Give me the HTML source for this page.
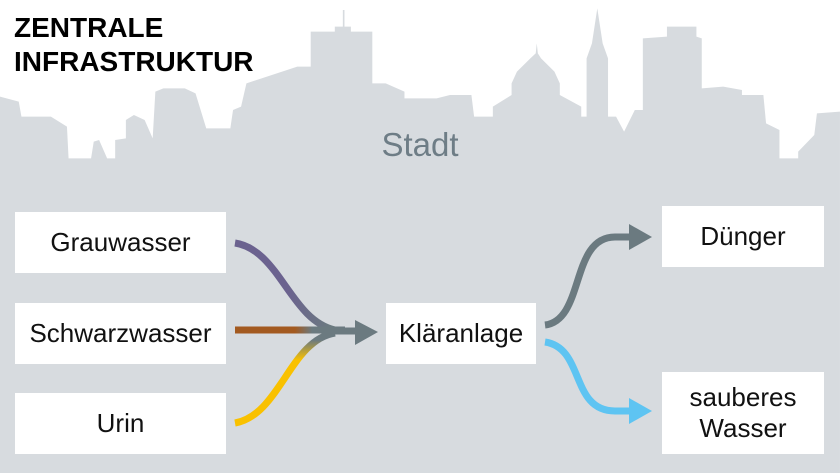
<!DOCTYPE html>
<html><head><meta charset="utf-8"><style>
html,body{margin:0;padding:0;background:#fff}
body{width:840px;height:473px;position:relative;overflow:hidden;font-family:"Liberation Sans",sans-serif}
.box{position:absolute;background:#fff;display:flex;align-items:center;justify-content:center;text-align:center;font-size:26px;color:#111;line-height:31px}
.title{position:absolute;left:14px;top:11px;font-family:"Liberation Sans Narrow","Liberation Sans",sans-serif;font-weight:bold;font-size:28px;line-height:34px;color:#000;white-space:nowrap}
.stadt{position:absolute;left:0;width:840px;top:126px;text-align:center;font-family:"Liberation Sans Narrow","Liberation Sans",sans-serif;font-size:33px;color:#6e7d86}
</style></head><body>
<svg width="840" height="473" style="position:absolute;left:0;top:0">
<defs>
<linearGradient id="gp" x1="235" y1="0" x2="330" y2="0" gradientUnits="userSpaceOnUse"><stop offset="0.55" stop-color="#6b628f"/><stop offset="1" stop-color="#6b7a80"/></linearGradient>
<linearGradient id="gb" x1="295" y1="0" x2="312" y2="0" gradientUnits="userSpaceOnUse"><stop offset="0" stop-color="#a35a20"/><stop offset="1" stop-color="#6b7a80"/></linearGradient>
<linearGradient id="gy" x1="0" y1="360" x2="0" y2="340" gradientUnits="userSpaceOnUse"><stop offset="0" stop-color="#f9c100"/><stop offset="1" stop-color="#6b7a80"/></linearGradient>
</defs>
<g transform="scale(0.5357,0.3333)" fill="#d7dbdf">
<polygon points="0,290 35,305 40,350 95,350 125,380 128,475 170,475 175,425 185,420 200,475 215,475 215,420 235,415 235,360 250,345 270,360 285,415 290,275 305,265 345,265 365,280 385,385 430,385 435,330 450,320 460,250 555,200 580,200 580,95 625,95 625,80 640,80 640,30 643,30 643,80 655,80 655,95 695,95 695,250 720,250 755,275 755,295 815,295 840,285 880,285 885,350 920,350 920,320 955,285 955,250 965,215 990,175 1000,160 1002,130 1004,160 1010,175 1035,215 1045,250 1045,285 1085,320 1085,350 1095,350 1095,175 1105,130 1115,25 1125,130 1135,175 1135,350 1150,350 1165,395 1185,330 1200,330 1200,115 1245,110 1245,80 1300,80 1300,110 1310,115 1310,265 1350,260 1385,270 1385,285 1425,285 1430,370 1455,390 1455,475 1490,475 1490,455 1520,405 1525,340 1568,335 1568,1420 0,1420"/>
</g>
<g fill="none" stroke-width="7">
<path d="M235,243 C280,250 290,320 335,330" stroke="url(#gp)"/>
<path d="M235,330 L345,330" stroke="url(#gb)"/>
<path d="M235,423 C280,415 290,340 335,333" stroke="url(#gy)"/>
<path d="M545,325 C585,320 570,237 615,237 L632,237" stroke="#6b7a80"/>
<path d="M545,342 C585,348 570,411 615,411 L632,411" stroke="#5ec4f2"/>
</g>
<polygon points="355,320 378,332 355,345" fill="#6b7a80"/>
<path d="M330,331 L358,331" stroke="#6b7a80" stroke-width="7"/>
<polygon points="629,224 652,237 629,250" fill="#6b7a80"/>
<polygon points="629,398 652,411 629,424" fill="#5ec4f2"/>
</svg>
<div class="title">ZENTRALE<br>INFRASTRUKTUR</div>
<div class="stadt">Stadt</div>
<div class="box" style="left:15px;top:212px;width:211px;height:61px">Grauwasser</div>
<div class="box" style="left:15px;top:303px;width:211px;height:61px">Schwarzwasser</div>
<div class="box" style="left:15px;top:393px;width:211px;height:61px">Urin</div>
<div class="box" style="left:386px;top:303px;width:150px;height:61px">Kläranlage</div>
<div class="box" style="left:662px;top:206px;width:162px;height:61px">Dünger</div>
<div class="box" style="left:662px;top:372px;width:162px;height:82px">sauberes<br>Wasser</div>
</body></html>
